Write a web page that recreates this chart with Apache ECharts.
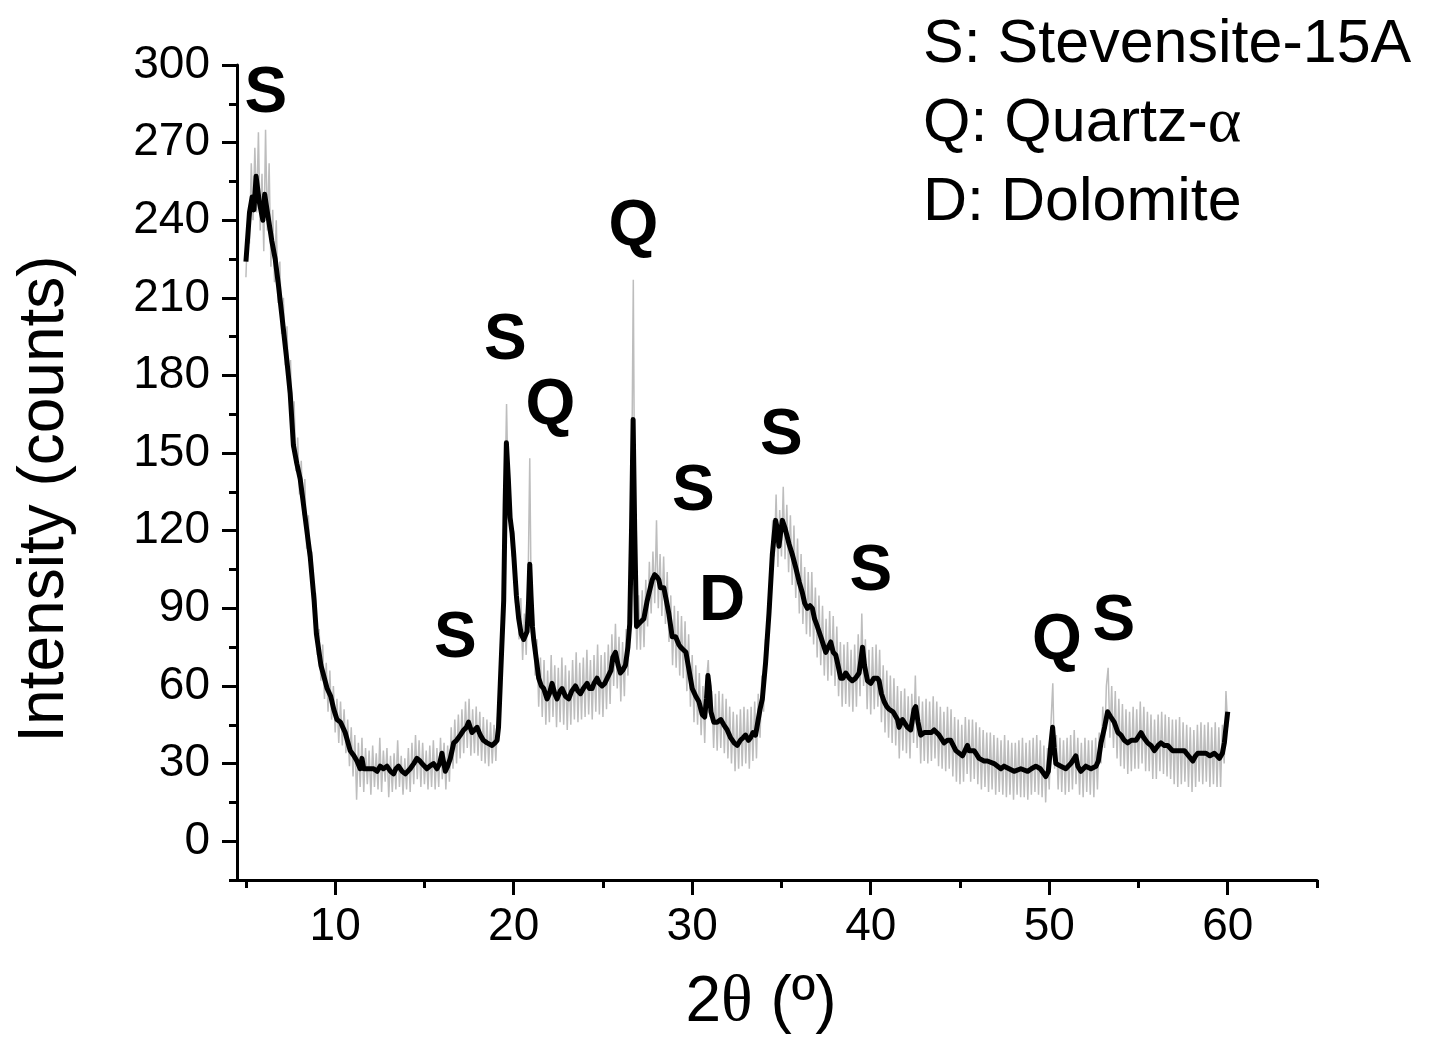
<!DOCTYPE html>
<html>
<head>
<meta charset="utf-8">
<script src="https://cdn.jsdelivr.net/npm/echarts@6/dist/echarts.min.js"></script>
<style>
  html, body { margin: 0; padding: 0; background: #fff; }
  #main { width: 1451px; height: 1043px; }
</style>
</head>
<body>
<div id="main"></div>
<script>
// tick positions
var xMajor = [10, 20, 30, 40, 50, 60];
var xMinor = [5, 15, 25, 35, 45, 55, 65];
var yMajor = [0, 30, 60, 90, 120, 150, 180, 210, 240, 270, 300];
var yMinor = [-15, 15, 45, 75, 105, 135, 165, 195, 225, 255, 285];

// phase key (top right)
var phaseKey = ['S: Stevensite-15A', 'Q: Quartz-{g|α}', 'D: Dolomite'];

// peak tags
var peakTags = ['S', 'S', 'Q', 'Q', 'S', 'S', 'D', 'S', 'S', 'Q', 'S'];
var peakX = [6.11, 19.53, 22.06, 26.71, 16.73, 30.07, 31.68, 34.99, 40.0, 50.43, 53.62];
var peakY = [288.8, 193.1, 168.0, 237.4, 77.9, 134.7, 92.2, 156.4, 103.9, 77.2, 84.5];

// raw counts, sampled every 0.1 deg from 5.0 to 60.0
var grayStart = 5.0, grayStep = 0.1;
var grayY = [
  218,238,231,262,240,268,243,274,236,258,   // 5
  228,275,236,262,222,244,216,240,208,224,   // 6
  196,210,184,199,172,186,152,170,143,156,   // 7
  134,147,126,140,113,126,104,112,88,96,     // 8
  72,82,62,76,55,69,50,66,47,60,             // 9
  42,55,38,54,37,51,34,47,29,44,             // 10
  25,41,16,38,21,40,19,36,22,35,             // 11
  18,37,21,34,20,40,19,35,23,36,             // 12
  17,33,19,34,20,39,21,33,18,32,             // 13
  20,36,19,38,22,41,24,39,21,38,             // 14
  22,35,20,37,21,39,20,36,21,40,             // 15
  24,38,20,37,23,44,28,47,30,49,             // 16
  32,51,34,54,36,55,33,51,34,52,             // 17
  33,50,31,48,30,47,29,46,30,45,             // 18
  31,48,45,76,80,130,169,132,136,110,        // 19
  120,92,100,78,94,70,88,72,96,148,          // 20
  80,88,64,78,52,71,48,70,45,66,             // 21
  46,72,48,68,44,67,46,71,45,68,             // 22
  43,66,45,70,47,73,46,69,47,71,             // 23
  48,74,49,70,47,72,50,76,49,72,             // 24
  48,73,51,76,53,80,60,84,59,79,             // 25
  54,77,56,82,64,90,130,217,100,74,          // 26
  95,74,97,75,101,83,108,88,112,92,          // 27
  124,90,111,87,110,84,104,77,95,68,         // 28
  91,67,89,64,87,63,85,58,80,52,             // 29
  72,46,68,45,65,41,60,38,62,70,             // 30
  48,58,36,57,35,58,36,57,34,55,             // 31
  32,52,30,50,27,49,28,51,29,52,             // 32
  30,51,28,52,31,54,32,57,40,64,             // 33
  50,78,68,98,90,124,110,134,106,128,        // 34
  110,137,109,130,104,126,99,122,94,117,     // 35
  88,111,84,106,80,104,79,104,76,98,         // 36
  71,95,68,91,64,86,62,89,64,87,             // 37
  60,83,56,77,52,76,53,77,52,74,             // 38
  50,76,52,80,56,88,60,78,51,74,             // 39
  49,75,51,76,52,74,46,68,42,66,             // 40
  40,64,38,63,37,60,32,58,35,59,             // 41
  34,56,32,57,38,64,36,56,30,54,             // 42
  31,55,30,54,31,56,32,54,29,52,             // 43
  28,50,27,52,28,51,25,48,23,47,             // 44
  22,45,23,48,26,47,23,47,24,46,             // 45
  22,44,20,43,21,42,19,42,20,41,             // 46
  18,40,19,39,18,41,17,39,18,38,             // 47
  16,38,18,39,17,40,17,38,16,39,             // 48
  18,40,19,41,18,39,17,37,15,36,             // 49
  20,46,61,28,41,20,40,19,39,18,             // 50
  40,19,41,20,43,22,40,18,38,17,             // 51
  40,19,39,18,39,17,40,20,42,30,             // 52
  52,36,60,67,40,60,36,58,32,55,             // 53
  29,53,28,51,26,50,27,52,28,51,             // 54
  28,54,30,52,27,50,27,49,24,47,             // 55
  24,49,27,50,26,49,25,48,24,47,             // 56
  22,47,21,48,22,46,23,45,21,44,             // 57
  19,43,21,45,23,46,22,45,23,46,             // 58
  21,44,22,46,21,44,21,45,30,58,             // 59
  44                                         // 60
];

// smoothed pattern [2theta, counts]
var blackPts = [
  [5.0,224],[5.2,243],[5.35,249],[5.45,244],[5.57,257],[5.75,247],[5.95,240],[6.05,250],
  [6.25,241],[6.45,232],[6.64,225],[6.82,215],[7.0,204],[7.29,186],[7.48,173],[7.66,153],
  [7.85,146],[8.04,140],[8.32,125],[8.6,110],[8.82,93],[8.95,80],[9.2,68],[9.55,59],
  [9.75,56],[9.92,51],[10.1,47],[10.3,46],[10.56,42],[10.84,35],[11.05,33],[11.22,31],
  [11.4,28],[11.5,32],[11.6,28],[11.9,28],[12.15,28],[12.35,27],[12.52,29],[12.7,28],
  [12.9,29],[13.1,27],[13.27,26],[13.4,28],[13.55,29],[13.75,27],[13.93,26],[14.2,28],
  [14.4,30],[14.58,32],[14.75,31],[14.86,30],[15.14,28],[15.3,29],[15.51,30],[15.7,28],
  [15.85,30],[15.98,34],[16.17,27],[16.3,29],[16.45,32],[16.64,38],[16.8,39],[17.01,41],
  [17.2,43],[17.35,44],[17.47,46],[17.66,42],[17.8,43],[17.95,44],[18.13,41],[18.3,39],
  [18.51,38],[18.79,37],[18.95,38],[19.07,39],[19.15,44],[19.25,61],[19.44,93],[19.52,130],
  [19.59,154],[19.7,140],[19.8,125],[19.91,119],[20.0,111],[20.15,95],[20.28,86],[20.42,80],
  [20.56,78],[20.75,81],[20.83,92],[20.9,107],[20.97,95],[21.05,83],[21.12,78],[21.31,68],
  [21.4,63],[21.55,60],[21.68,59],[21.87,55],[22.0,57],[22.15,61],[22.3,57],[22.43,55],
  [22.6,58],[22.71,59],[22.9,56],[23.08,55],[23.25,58],[23.46,60],[23.6,58],[23.74,57],
  [23.9,59],[24.11,61],[24.25,59],[24.39,59],[24.5,61],[24.67,63],[24.8,61],[24.95,60],
  [25.1,61],[25.24,63],[25.45,66],[25.55,71],[25.7,73],[25.85,68],[25.98,65],[26.1,66],
  [26.26,68],[26.4,75],[26.5,84],[26.6,120],[26.69,163],[26.78,120],[26.88,83],[27.0,84],
  [27.15,85],[27.29,86],[27.48,93],[27.62,97],[27.76,101],[27.9,103],[28.04,102],[28.13,101],
  [28.22,98],[28.41,98],[28.55,93],[28.69,88],[28.88,79],[29.07,79],[29.25,76],[29.35,75],
  [29.5,74],[29.65,73],[29.8,67],[30.0,59],[30.2,56],[30.37,54],[30.56,49],[30.7,48],
  [30.8,55],[30.88,64],[30.95,60],[31.05,50],[31.21,46],[31.4,46],[31.6,47],[31.77,45],
  [31.96,43],[32.15,40],[32.35,38],[32.52,37],[32.7,39],[32.85,40],[32.99,41],[33.15,39],
  [33.27,40],[33.4,42],[33.55,41],[33.65,45],[33.8,51],[33.93,55],[34.11,69],[34.3,88],
  [34.49,111],[34.67,124],[34.76,121],[34.86,114],[34.95,119],[35.05,124],[35.2,121],[35.42,115],
  [35.6,111],[35.79,106],[36.0,100],[36.17,96],[36.3,92],[36.45,90],[36.6,91],[36.73,90],
  [36.85,86],[37.01,83],[37.25,78],[37.48,73],[37.62,75],[37.76,77],[37.9,73],[38.04,72],
  [38.2,67],[38.32,63],[38.45,63],[38.6,65],[38.8,63],[38.97,62],[39.15,63],[39.35,65],
  [39.45,70],[39.54,75],[39.65,68],[39.82,62],[40.0,61],[40.18,63],[40.37,63],[40.47,62],
  [40.6,57],[40.75,54],[40.9,52],[41.03,51],[41.25,50],[41.5,47],[41.59,44],[41.78,47],
  [42.06,44],[42.24,43],[42.43,51],[42.52,52],[42.65,46],[42.8,41],[43.0,42],[43.18,42],
  [43.4,42],[43.55,43],[43.83,41],[44.11,38],[44.3,39],[44.48,39],[44.77,35],[44.86,35],
  [45.14,33],[45.42,37],[45.51,35],[45.79,35],[45.89,34],[46.07,32],[46.35,31],[46.54,31],
  [46.91,30],[47.0,30],[47.29,28],[47.47,29],[47.75,28],[48.03,27],[48.41,28],[48.79,27],
  [49.0,28],[49.25,29],[49.5,28],[49.81,25],[49.95,27],[50.1,38],[50.19,44],[50.28,36],
  [50.37,30],[50.65,29],[50.93,28],[51.21,30],[51.4,32],[51.49,33],[51.6,29],[51.77,27],
  [52.05,29],[52.34,28],[52.62,29],[52.75,31],[52.9,38],[53.1,44],[53.27,50],[53.45,48],
  [53.64,46],[53.85,42],[54.02,41],[54.2,39],[54.39,38],[54.6,39],[54.86,39],[55.14,42],
  [55.3,40],[55.51,38],[55.7,37],[55.89,35],[56.1,37],[56.26,38],[56.45,37],[56.64,37],
  [56.9,35],[57.1,35],[57.35,35],[57.57,35],[57.8,33],[58.04,31],[58.2,33],[58.32,34],
  [58.55,34],[58.78,34],[59.0,33],[59.25,34],[59.4,33],[59.53,32],[59.7,34],[59.81,38],
  [59.9,44],[60.0,50]
];

var FONT = 'Liberation Sans';

var grayPts = grayY.map(function (v, i) {
  return [Math.round((grayStart + i * grayStep) * 10) / 10, v];
});
var tagPts = peakTags.map(function (t, i) {
  return { name: t, value: [peakX[i], peakY[i]] };
});

var myChart = echarts.init(document.getElementById('main'));
var option = {
  animation: false,
  backgroundColor: '#fff',
  title: {
    text: phaseKey.join('\n'),
    left: 923,
    top: 6,
    padding: 0,
    textStyle: {
      fontFamily: FONT,
      fontSize: 61,
      fontWeight: 'normal',
      lineHeight: 79,
      color: '#000',
      rich: {
        g: { fontFamily: 'Liberation Serif', fontSize: 64, lineHeight: 79, color: '#000' }
      }
    }
  },
  grid: {
    left: 237,
    right: 134,
    top: 65,
    bottom: 163,
    outerBoundsMode: 'none'
  },
  xAxis: [
    {
      type: 'value',
      min: 4.5,
      max: 65,
      name: '2{t|θ} (º)',
      nameLocation: 'middle',
      nameGap: 90,
      nameTextStyle: {
        fontFamily: FONT,
        fontSize: 64,
        color: '#000',
        padding: [0, 32, 0, 0],
        rich: {
          t: { fontFamily: 'Liberation Serif', fontSize: 66, color: '#000' }
        }
      },
      axisLine: { onZero: false, lineStyle: { color: '#000', width: 3 } },
      axisTick: { customValues: xMajor, length: 15, lineStyle: { color: '#000', width: 3 } },
      axisLabel: { customValues: xMajor, fontFamily: FONT, fontSize: 46, color: '#000', margin: 24 },
      splitLine: { show: false }
    },
    {
      type: 'value',
      min: 4.5,
      max: 65,
      position: 'bottom',
      axisLine: { show: false, onZero: false },
      axisTick: { customValues: xMinor, length: 8, lineStyle: { color: '#000', width: 3 } },
      axisLabel: { show: false },
      splitLine: { show: false }
    }
  ],
  yAxis: [
    {
      type: 'value',
      min: -15,
      max: 300,
      name: 'Intensity (counts)',
      nameLocation: 'middle',
      nameGap: 160,
      nameTextStyle: {
        fontFamily: FONT,
        fontSize: 64,
        color: '#000',
        padding: [0, 53, 0, 0]
      },
      axisLine: { show: true, onZero: false, lineStyle: { color: '#000', width: 3 } },
      axisTick: { show: true, customValues: yMajor, length: 15, lineStyle: { color: '#000', width: 3 } },
      axisLabel: { customValues: yMajor, fontFamily: FONT, fontSize: 46, color: '#000', margin: 27 },
      splitLine: { show: false }
    },
    {
      type: 'value',
      min: -15,
      max: 300,
      position: 'left',
      axisLine: { show: false, onZero: false },
      axisTick: { show: true, customValues: yMinor, length: 8, lineStyle: { color: '#000', width: 3 } },
      axisLabel: { show: false },
      splitLine: { show: false }
    }
  ],
  series: [
    {
      name: 'raw',
      type: 'line',
      xAxisIndex: 0,
      yAxisIndex: 0,
      data: grayPts,
      showSymbol: false,
      symbol: 'none',
      lineStyle: { color: '#bdbdbd', width: 1.5 },
      z: 1
    },
    {
      name: 'smoothed',
      type: 'line',
      xAxisIndex: 0,
      yAxisIndex: 0,
      data: blackPts,
      showSymbol: false,
      symbol: 'none',
      lineStyle: { color: '#000', width: 5, join: 'round' },
      z: 2
    },
    {
      name: 'tags',
      type: 'scatter',
      xAxisIndex: 0,
      yAxisIndex: 0,
      data: tagPts,
      symbolSize: 0,
      itemStyle: { color: '#000', opacity: 1 },
      clip: false,
      label: {
        show: true,
        position: 'inside',
        formatter: '{b}',
        fontFamily: FONT,
        fontSize: 64,
        fontWeight: 'bold',
        color: '#000',
        opacity: 1,
        textBorderWidth: 0
      },
      z: 3
    }
  ]
};
myChart.setOption(option);
</script>
</body>
</html>
